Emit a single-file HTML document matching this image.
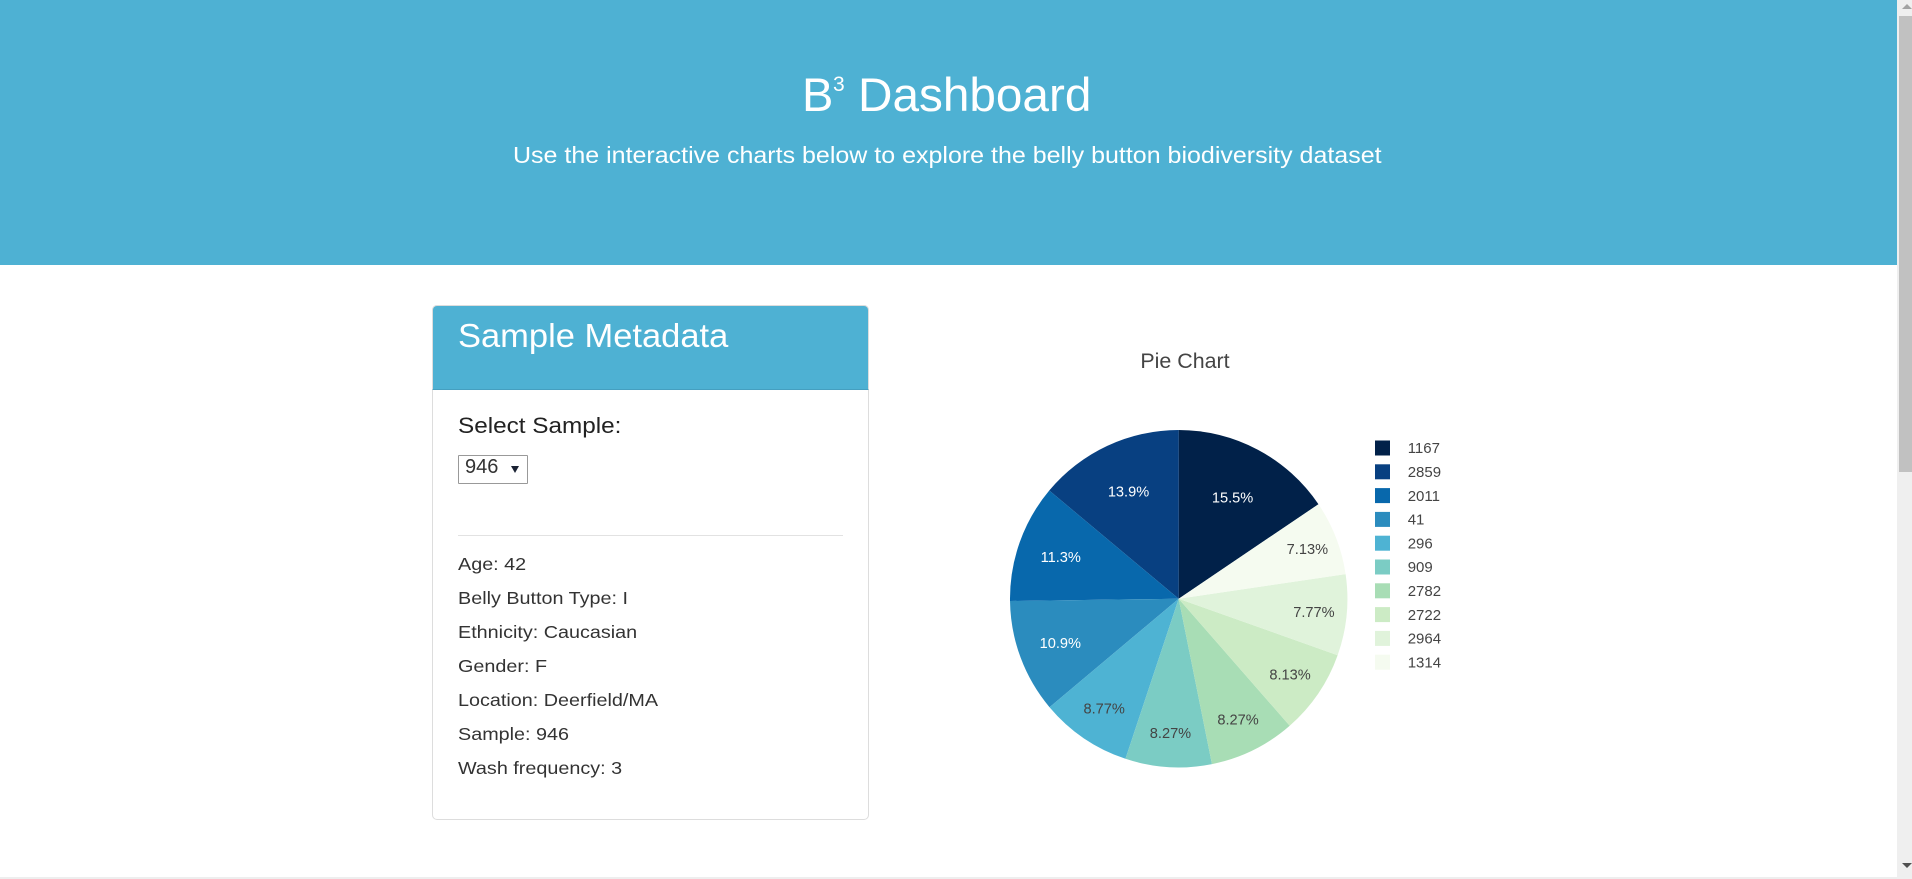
<!DOCTYPE html>
<html lang="en">
<head>
<meta charset="utf-8">
<title>B3 Dashboard</title>
<style>
html,body{margin:0;padding:0;width:1912px;height:879px;overflow:hidden;background:#fff;font-family:"Liberation Sans",sans-serif;}
#page{position:relative;width:1912px;height:879px;overflow:hidden;}
.t{position:absolute;line-height:1;white-space:nowrap;margin:0;font-weight:normal;transform-origin:left center;}
#header{position:absolute;left:0;top:0;width:1897px;height:265px;background:#4eb1d3;}
#panel{position:absolute;left:432px;top:305px;width:435px;height:513px;border:1px solid #ddd;border-radius:5px;background:#fff;}
#panel-head{position:absolute;left:432px;top:305px;width:437px;height:85px;box-sizing:border-box;background:#4eb1d3;border:1px solid #ddd;border-bottom:1px solid #459fc0;border-radius:5px 5px 0 0;}
#sel{position:absolute;left:458px;top:455px;width:70px;height:29px;box-sizing:border-box;border:1px solid #999;border-radius:1px;background:#fff;color:#333;font:20px/1 "Liberation Sans",sans-serif;padding:0 0 6px 6px;margin:0;appearance:none;-webkit-appearance:none;outline:none;}
#sel-arrow{position:absolute;left:511px;top:466px;width:0;height:0;border-left:4px solid transparent;border-right:4px solid transparent;border-top:7px solid #1a2233;}
#divider{position:absolute;left:458px;top:535px;width:385px;height:1px;background:#e2e2e2;}
#chart{position:absolute;left:880px;top:310px;width:640px;height:500px;}
#sb{position:absolute;left:1897px;top:0;width:15px;height:879px;background:#efefef;}
#sb-thumb{position:absolute;left:2px;top:16px;width:13px;height:456px;background:#c1c1c1;}
#sb-up{position:absolute;left:5px;top:4px;width:0;height:0;border-left:5px solid transparent;border-right:5px solid transparent;border-bottom:5px solid #a3a3a3;}
#sb-down{position:absolute;left:5px;top:863px;width:0;height:0;border-left:5px solid transparent;border-right:5px solid transparent;border-top:5px solid #505050;}
#bottom-strip{position:absolute;left:0;top:877px;width:1912px;height:2px;background:#eee;}
</style>
</head>
<body>
<div id="page">
  <div id="header"></div>
  <h1 class="t" style="left:802px;top:71px;font-size:47px;color:#fff;">B</h1>
  <span class="t" style="left:833px;top:74px;font-size:21px;color:#fff;">3</span>
  <span class="t" style="left:858px;top:71px;font-size:47px;color:#fff;transform:scaleX(1.015);">Dashboard</span>
  <p class="t" style="left:513px;top:143.5px;font-size:23px;color:#fff;transform:scaleX(1.087);">Use the interactive charts below to explore the belly button biodiversity dataset</p>

  <div id="panel"></div>
  <div id="panel-head"></div>
  <h3 class="t" style="left:458px;top:319px;font-size:33px;color:#fff;transform:scaleX(1.045);">Sample Metadata</h3>
  <label class="t" for="sel" style="left:457.5px;top:415px;font-size:22.5px;color:#222;transform:scaleX(1.08);">Select Sample:</label>
  <select id="sel"><option>946</option></select>
  <div id="sel-arrow"></div>
  <div id="divider"></div>

  <div class="t" style="left:458px;top:556px;font-size:17.5px;color:#333;transform:scaleX(1.13);">Age: 42</div>
  <div class="t" style="left:458px;top:590px;font-size:17.5px;color:#333;transform:scaleX(1.13);">Belly Button Type: I</div>
  <div class="t" style="left:458px;top:624px;font-size:17.5px;color:#333;transform:scaleX(1.13);">Ethnicity: Caucasian</div>
  <div class="t" style="left:458px;top:658px;font-size:17.5px;color:#333;transform:scaleX(1.13);">Gender: F</div>
  <div class="t" style="left:458px;top:692px;font-size:17.5px;color:#333;transform:scaleX(1.13);">Location: Deerfield/MA</div>
  <div class="t" style="left:458px;top:726px;font-size:17.5px;color:#333;transform:scaleX(1.13);">Sample: 946</div>
  <div class="t" style="left:458px;top:760px;font-size:17.5px;color:#333;transform:scaleX(1.13);">Wash frequency: 3</div>

  <svg id="chart" width="640" height="500" viewBox="0 0 640 500" xmlns="http://www.w3.org/2000/svg">
    <text x="305" y="58" text-anchor="middle" font-family="'Liberation Sans',sans-serif" font-size="21.4" fill="#444">Pie Chart</text>
  </svg>

  <div id="bottom-strip"></div>
  <div id="sb">
    <div id="sb-up"></div>
    <div id="sb-thumb"></div>
    <div id="sb-down"></div>
  </div>
</div>

<script>
var categories = ["1167", "2859", "2011", "41", "296", "909", "2782", "2722", "2964", "1314"];
var sliceValues = [15.54, 13.92, 11.3, 10.9, 8.77, 8.27, 8.27, 8.13, 7.77, 7.13];
var sliceColors = ["#012149", "#084081", "#0868ac", "#2b8cbe", "#4eb3d3", "#7bccc4", "#a8ddb5", "#ccebc5", "#e0f3db", "#f5fbf0"];

var SVG_NS = "http://www.w3.org/2000/svg";
var FONT = "'Liberation Sans',sans-serif";
var chart = document.getElementById("chart");
var centerX = 298.7, centerY = 288.7, radius = 168.7;
var legendX = 495, legendTextX = 527.7, legendTop = 138, legendStep = 23.8, swatchSize = 15;
var labelFontSize = 14.6, legendFontSize = 15;

function polar(angle, r) {
  return { x: centerX + r * Math.sin(angle), y: centerY - r * Math.cos(angle) };
}
function isLight(hex) {
  var n = parseInt(hex.slice(1), 16);
  var red = (n >> 16) & 255, green = (n >> 8) & 255, blue = n & 255;
  return (red * 299 + green * 587 + blue * 114) / 1000 > 128;
}

var total = sliceValues.reduce(function (a, b) { return a + b; }, 0);
var angle = (sliceValues[0] / total) * 2 * Math.PI;
var labels = [];

sliceValues.forEach(function (value, i) {
  var sweep = (value / total) * 2 * Math.PI;
  var end = angle - sweep;
  var p0 = polar(angle, radius), p1 = polar(end, radius);
  var path = document.createElementNS(SVG_NS, "path");
  path.setAttribute("d", "M" + centerX + " " + centerY + "L" + p0.x + " " + p0.y +
    "A" + radius + " " + radius + " 0 " + (sweep > Math.PI ? 1 : 0) + " 0 " + p1.x + " " + p1.y + "Z");
  path.setAttribute("fill", sliceColors[i]);
  
  
  chart.appendChild(path);

  var half = sweep / 2;
  var inscribed = 1 / (1 + 1 / Math.sin(half));
  labels.push({ pos: polar(angle - half, radius * (1 - inscribed)), i: i, value: value });
  angle = end;
});

labels.forEach(function (item) {
  var text = document.createElementNS(SVG_NS, "text");
  text.setAttribute("x", item.pos.x);
  text.setAttribute("y", item.pos.y + 5.2);
  text.setAttribute("text-anchor", "middle");
  text.setAttribute("font-family", FONT);
  text.setAttribute("font-size", labelFontSize);
  text.setAttribute("fill", isLight(sliceColors[item.i]) ? "#444" : "#fff");
  
  
  text.textContent = ((item.value / total) * 100).toPrecision(3) + "%";
  chart.appendChild(text);
});

categories.forEach(function (name, i) {
  var rowY = legendTop + i * legendStep;
  var swatch = document.createElementNS(SVG_NS, "rect");
  swatch.setAttribute("x", legendX);
  swatch.setAttribute("y", rowY - swatchSize / 2);
  swatch.setAttribute("width", swatchSize);
  swatch.setAttribute("height", swatchSize);
  swatch.setAttribute("fill", sliceColors[i]);
  
  
  chart.appendChild(swatch);

  var label = document.createElementNS(SVG_NS, "text");
  label.setAttribute("x", legendTextX);
  label.setAttribute("y", rowY + 5.2);
  label.setAttribute("font-family", FONT);
  label.setAttribute("font-size", legendFontSize);
  label.setAttribute("fill", "#444");
  
  
  label.textContent = name;
  chart.appendChild(label);
});
</script>
</body>
</html>
